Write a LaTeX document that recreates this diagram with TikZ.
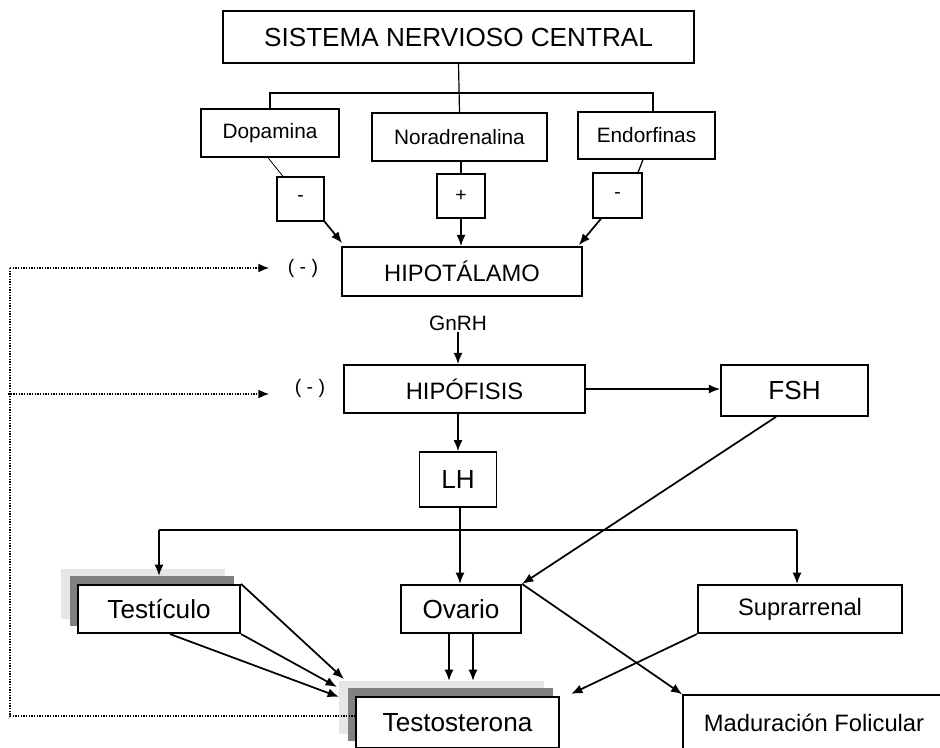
\documentclass[tikz,border=0pt]{standalone}
\usepackage{fontspec}
\setmainfont{Liberation Sans}
\usetikzlibrary{arrows.meta,backgrounds}

\definecolor{shadelight}{HTML}{E6E6E6}
\definecolor{shadedark}{HTML}{808080}

% one drawing unit
\newdimen\pxu \pxu=0.75pt

\begin{document}
\begin{tikzpicture}[x=0.75pt,y=-0.75pt,
  box/.style={draw,fill=white,line width=1pt,inner sep=0pt,align=center},
  heavybox/.style={box,line width=1.6pt},
  sz/.style 2 args={minimum width=#1\pxu,minimum height=#2\pxu},
  fbig/.style={font=\fontsize{19.6pt}{23pt}\selectfont},
  fmid/.style={font=\fontsize{17.8pt}{21pt}\selectfont},
  fsmall/.style={font=\fontsize{15.6pt}{19pt}\selectfont},
  fsign/.style={font=\fontsize{14.6pt}{17pt}\selectfont},
  arr/.style={-{Latex[length=8.5pt,width=6.8pt]},line width=1.3pt},
  link/.style={line width=0.9pt},
  feedback/.style={line width=1pt,dash pattern=on 0.9pt off 1.1pt},
  fbarr/.style={feedback,-{Latex[length=8pt,width=6.5pt]}},
]
\useasboundingbox (0,0) rectangle (940,747);
\clip (0,0) rectangle (940,747);

% top level
\node[box,fbig,line width=1.2pt,sz={471}{52}] (snc) at (458.5,37) {SISTEMA NERVIOSO CENTRAL};

% neurotransmitters
\node[box,fsmall,sz={138}{48}] (dop)  at (270,133)     {Dopamina};
\node[box,fsmall,sz={175}{48}] (nor)  at (459.5,137)   {Noradrenalina};
\node[box,fsmall,sz={137}{47}] (endo) at (646.5,135.5) {Endorfinas};

% effect signs
\node[box,fsign,sz={47}{44}] (m1) at (300.5,199)   {-};
\node[box,fsign,sz={48}{44}] (p)  at (461,196)     {+};
\node[box,fsign,sz={49}{45}] (m3) at (617.5,195.5) {-};

% axis
\node[heavybox,fmid,line width=1.3pt,sz={240}{49}] (hipot) at (462,271.5) {HIPOTÁLAMO};
\node[fsmall,inner sep=1pt] (gnrh) at (458,323) {GnRH};
\node[heavybox,fmid,line width=1.3pt,sz={241}{48}] (hipof) at (464.5,389) {HIPÓFISIS};
\node[heavybox,fbig,line width=1.3pt,sz={147}{51}] (fsh) at (794.5,390.5) {FSH};
\node[box,fbig,sz={77}{55}] (lh) at (458,479.5) {LH};

% glands
\node[heavybox,fbig,sz={162}{48}] (tesc)  at (159,609)     {Testículo};
\node[heavybox,fbig,sz={120}{48}] (ova)   at (461,609)     {Ovario};
\node[heavybox,fmid,sz={204}{48}] (supra) at (800,609)     {Suprarrenal};
\node[heavybox,fbig,sz={203}{51}] (tes)   at (457.5,722.5) {Testosterona};
\node[box,fmid,sz={262}{55}] (mad) at (814,722.5) {Maduración Folicular};

% stacked shadows behind the two framed boxes
\begin{scope}[on background layer]
  \foreach \n in {tesc,tes}{
    \fill[shadelight] ([shift={(-16,-15)}]\n.north west) rectangle ([shift={(-16,-15)}]\n.south east);
    \fill[shadedark]  ([shift={(-7,-8)}]\n.north west) rectangle ([shift={(-7,-8)}]\n.south east);
  }
\end{scope}
\coordinate (testop) at ([shift={(0,-15)}]tes.north);

% feedback labels
\node[fsign] (neg1) at (303,268) {( - )};
\node[fsign] (neg2) at (310,388) {( - )};

% central nervous system branching
\coordinate (br) at (458.5,93);
\draw[link] (dop.north) |- (br) -| ([shift={(6.5,0)}]endo.north);
\draw[link] (snc.south) -- (nor.north);

% neurotransmitters to hypothalamus
\draw[link,line width=0.6pt] ([shift={(-2,0)}]dop.south) -- ([shift={(-17.5,0)}]m1.north);
\draw[arr] (m1.south east) -- ([shift={(1,-3)}]hipot.north west);
\draw[link] (p.north |- nor.south) -- (p.north);
\draw[arr] (p.south) -- (p.south |- hipot.north);
\draw[link] ([shift={(-3.5,0)}]endo.south) -- ([shift={(20.5,0)}]m3.north);
\draw[arr] ([shift={(-16.5,0)}]m3.south) -- ([shift={(-4,-1)}]hipot.north east);

% hypothalamus - pituitary
\draw[arr] (gnrh.south) -- (gnrh.south |- hipof.north);
\draw[arr] (hipof.east) -- (hipof.east -| fsh.west);
\draw[arr] (lh.north |- hipof.south) -- (lh.north);

% LH distribution
\coordinate (bl) at (159,530);
\coordinate (brr) at (797,530);
\draw[link,line width=1.1pt] (bl) -- (brr);
\draw[arr] (bl) -- ([shift={(0,-8)}]tesc.north);
\draw[arr] (brr) -- (brr |- supra.north);
\draw[arr] ([shift={(2,0)}]lh.south) -- ([shift={(2,0)}]lh.south |- ova.north);
\draw[arr] ([shift={(-18.5,0)}]fsh.south) -- (ova.north east);

% outputs
\draw[arr] (ova.north east) -- (mad.north west);
\draw[arr] (supra.south west) -- ([shift={(11,-2)}]tes.north east);
\coordinate (ovl) at ([shift={(-12,0)}]ova.south);
\coordinate (ovr) at ([shift={(12,0)}]ova.south);
\draw[arr] (ovl) -- (ovl |- testop);
\draw[arr] (ovr) -- (ovr |- testop);
\draw[arr] (tesc.north east) -- ([shift={(-11,-17)}]tes.north west);
\draw[arr] (tesc.south east) -- ([shift={(-18,-9)}]tes.north west);
\draw[arr] ([shift={(11,0)}]tesc.south) -- ([shift={(-16,1)}]tes.north west);

% negative feedback of testosterone
\coordinate (fb1) at (10,268);
\coordinate (fb2) at (8,394);
\coordinate (fb3) at (10,716);
\draw[feedback] (fb1) -- (fb3) -- (fb3 -| tes.west);
\draw[fbarr] (fb1) -- ([shift={(-14,0)}]neg1.west);
\draw[fbarr] (fb2) -- ([shift={(-21,6)}]neg2.west);
\end{tikzpicture}
\end{document}
